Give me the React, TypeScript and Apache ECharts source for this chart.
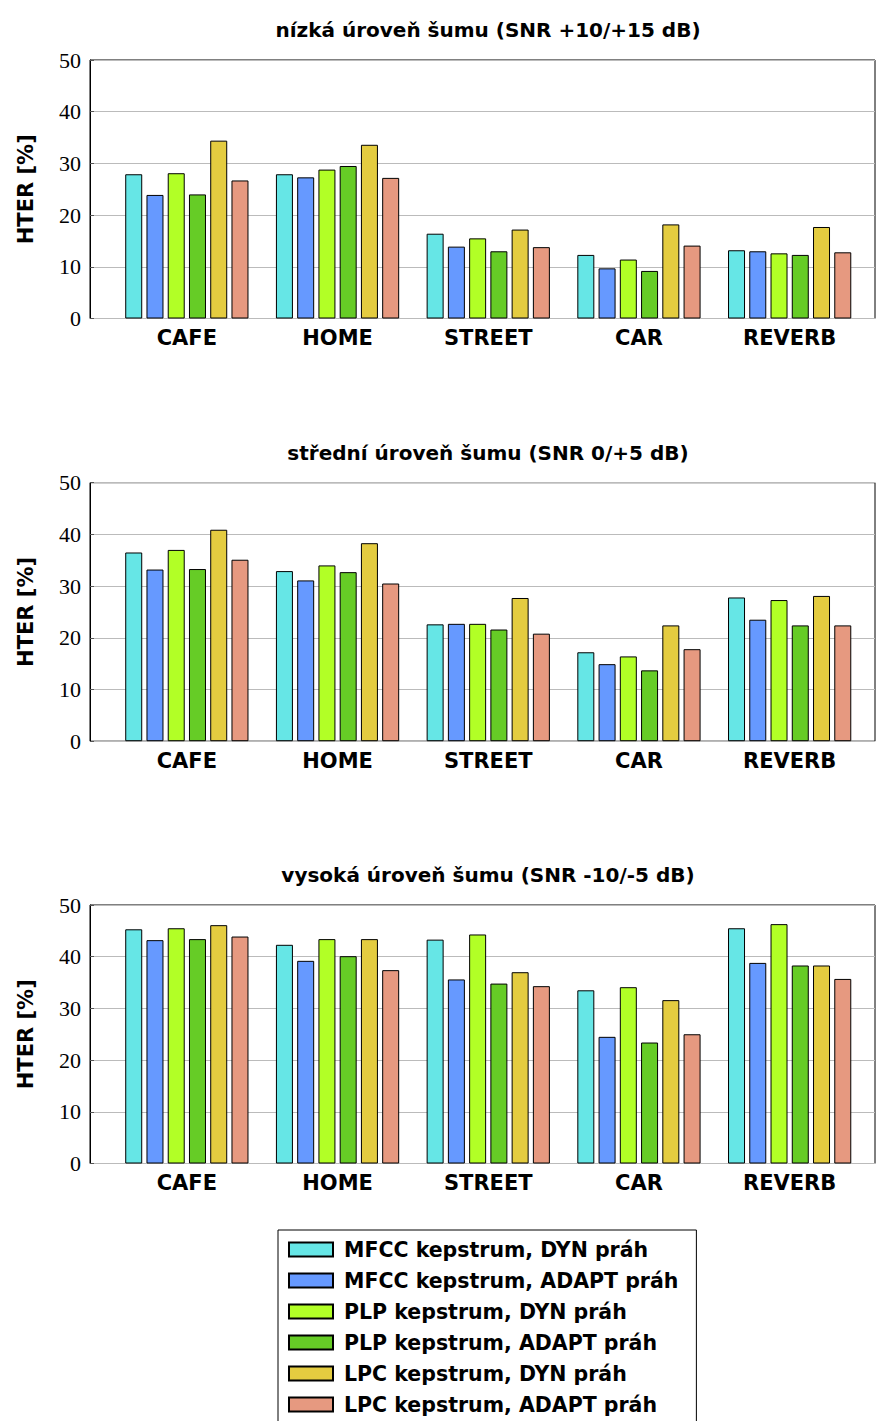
import React, { useEffect, useRef } from "react";
import * as echarts from "echarts";

const categories = ["CAFE", "HOME", "STREET", "CAR", "REVERB"];
const seriesNames = [
  "MFCC kepstrum, DYN práh",
  "MFCC kepstrum, ADAPT práh",
  "PLP kepstrum, DYN práh",
  "PLP kepstrum, ADAPT práh",
  "LPC kepstrum, DYN práh",
  "LPC kepstrum, ADAPT práh",
];
const colors = ["#66E6E6", "#6699FF", "#B2FF26", "#66CC26", "#E4CC40", "#E69980"];
const panelTitles = [
  "nízká úroveň šumu (SNR +10/+15 dB)",
  "střední úroveň šumu (SNR 0/+5 dB)",
  "vysoká úroveň šumu (SNR -10/-5 dB)",
];
const yTicks = [0, 10, 20, 30, 40, 50];

// rows = series (in order of seriesNames), columns = categories
const lowNoise = [
  [27.9, 27.9, 16.4, 12.3, 13.2],
  [23.9, 27.3, 13.9, 9.7, 13.0],
  [28.1, 28.8, 15.5, 11.4, 12.6],
  [24.0, 29.5, 13.0, 9.2, 12.3],
  [34.4, 33.6, 17.2, 18.2, 17.7],
  [26.7, 27.2, 13.8, 14.1, 12.8],
];
const midNoise = [
  [36.5, 32.9, 22.6, 17.2, 27.8],
  [33.2, 31.1, 22.7, 14.9, 23.5],
  [37.0, 34.0, 22.7, 16.4, 27.3],
  [33.3, 32.7, 21.6, 13.7, 22.4],
  [40.9, 38.3, 27.7, 22.4, 28.1],
  [35.1, 30.5, 20.8, 17.8, 22.4],
];
const highNoise = [
  [45.3, 42.3, 43.3, 33.5, 45.5],
  [43.2, 39.2, 35.6, 24.5, 38.8],
  [45.5, 43.4, 44.3, 34.1, 46.3],
  [43.4, 40.1, 34.8, 23.4, 38.3],
  [46.1, 43.4, 37.0, 31.6, 38.3],
  [43.9, 37.4, 34.3, 25.0, 35.7],
];
const panels = [lowNoise, midNoise, highNoise];

const SANS = "DejaVu Sans";
const SERIF = "Liberation Serif";

export default function App() {
  const ref = useRef<HTMLDivElement>(null);

  useEffect(() => {
    document.body.style.margin = "0";
    if (!ref.current) return;
    const chart = echarts.init(ref.current, null, { renderer: "svg" });

    const tops = [60, 482.7, 905];
    const plotH = 258.5;
    const yMin = yTicks[0];
    const yMax = yTicks[yTicks.length - 1];
    const grids: any[] = [];
    const xAxes: any[] = [];
    const yAxes: any[] = [];
    const series: any[] = [];
    const graphics: any[] = [];

    panels.forEach((panel, p) => {
      const top = tops[p];
      // frame grid
      grids.push({
        left: 90, width: 785, top, height: plotH,
        show: true, borderColor: "#000", borderWidth: 1, backgroundColor: "transparent",
      });
      xAxes.push({ type: "value", gridIndex: 2 * p, show: false, min: 0, max: 1 });
      yAxes.push({
        type: "value", gridIndex: 2 * p, min: yMin, max: yMax, interval: 10,
        name: "HTER [%]", nameLocation: "middle", nameGap: 54, nameRotate: 90,
        nameTextStyle: { fontFamily: SANS, fontWeight: "bold", fontSize: 21, color: "#000" },
        axisLine: { show: true, lineStyle: { color: "#000", width: 1 } },
        axisTick: { show: true, inside: true, length: 4, lineStyle: { color: "#555" } },
        splitLine: { show: true, lineStyle: { color: "#BBBBBB", width: 1 } },
        axisLabel: { fontFamily: SERIF, fontSize: 22, color: "#000", margin: 9 },
      });
      // bars grid
      grids.push({ left: 111.5, width: 753.5, top, height: plotH });
      xAxes.push({
        type: "category", gridIndex: 2 * p + 1, data: categories,
        axisLine: { show: false }, axisTick: { show: false },
        axisLabel: { fontFamily: SANS, fontWeight: "bold", fontSize: 21, color: "#000", margin: 9 },
      });
      yAxes.push({
        type: "value", gridIndex: 2 * p + 1, min: yMin, max: yMax, interval: 10, show: false,
        splitLine: { show: false },
      });
      panel.forEach((vals, s) => {
        series.push({
          type: "bar", name: seriesNames[s], xAxisIndex: 2 * p + 1, yAxisIndex: 2 * p + 1,
          data: vals, barWidth: 17, barGap: "25%",
          itemStyle: { color: colors[s], borderColor: "#000", borderWidth: 1 },
        });
      });
      graphics.push({
        type: "text", x: 488, y: top - 30,
        style: {
          text: panelTitles[p], align: "center", verticalAlign: "middle",
          font: `bold 20px '${SANS}'`, fill: "#000",
        },
      });
    });

    chart.setOption({
      animation: false,
      backgroundColor: "#fff",
      grid: grids,
      xAxis: xAxes,
      yAxis: yAxes,
      series,
      graphic: graphics,
      legend: {
        data: seriesNames, orient: "vertical", left: 278, top: 1230, height: 400,
        padding: [9, 18, 10, 10], itemWidth: 44, itemHeight: 14, itemGap: 10,
        borderColor: "#000", borderWidth: 1, backgroundColor: "#fff",
        icon: "rect",
        textStyle: { fontFamily: SANS, fontWeight: "bold", fontSize: 20.5, color: "#000", lineHeight: 21, padding: [0, 0, 0, 6] },
      },
    });

    return () => chart.dispose();
  }, []);

  return <div ref={ref} style={{ width: 876, height: 1421 }} />;
}
